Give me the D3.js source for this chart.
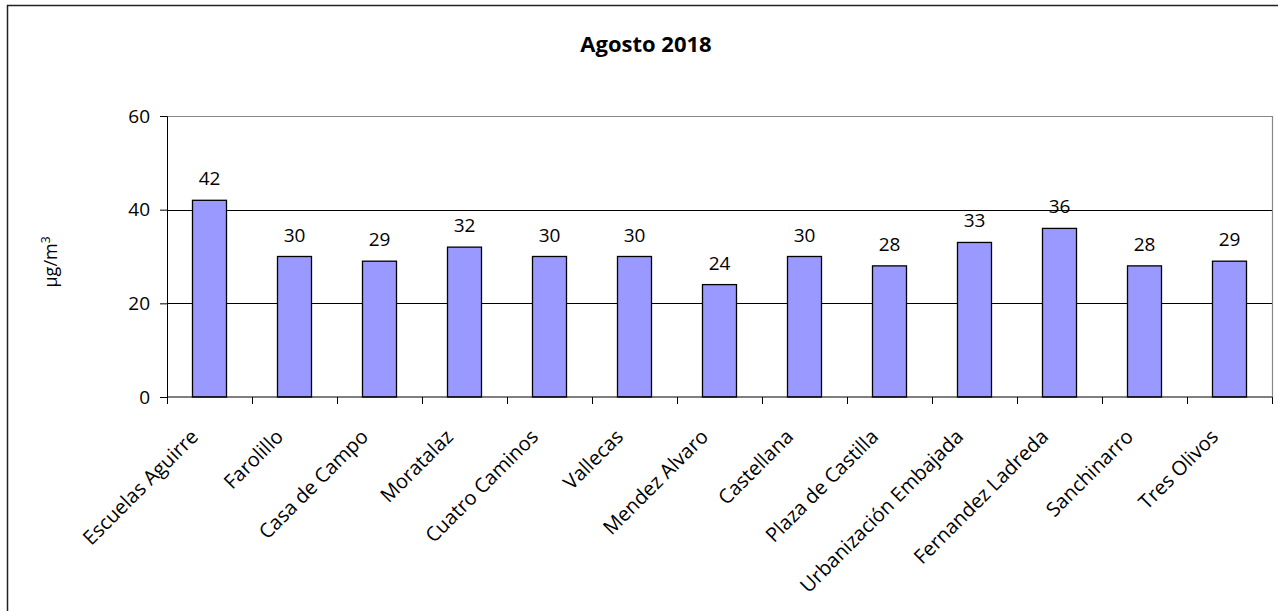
<!DOCTYPE html>
<html>
<head>
<meta charset="utf-8">
<script src="https://cdn.jsdelivr.net/npm/d3@7"></script>
<style>
  body { margin: 0; background: #fff; }
  text { font-family: "Open Sans", sans-serif; fill: #000; }
</style>
</head>
<body>
<div id="chart"></div>
<script>
// stations and monthly mean values (ug/m3)
const stations = ["Escuelas Aguirre", "Farolillo", "Casa de Campo", "Moratalaz", "Cuatro Caminos",
    "Vallecas", "Mendez Alvaro", "Castellana", "Plaza de Castilla", "Urbanización Embajada",
    "Fernandez Ladreda", "Sanchinarro", "Tres Olivos"];
const values = [42, 30, 29, 32, 30, 30, 24, 30, 28, 33, 36, 28, 29];
const yTicks = [0, 20, 40, 60];
const title = "Agosto 2018";

const width = 1278, height = 611;
const margin = {top: 116, right: 6, bottom: 214, left: 167};

const svg = d3.select("#chart")
    .append("svg")
    .attr("width", width)
    .attr("height", height);

// outer frame (runs past the right and bottom edge)
svg.append("rect")
    .attr("x", 7.5).attr("y", 5.5)
    .attr("width", 1300).attr("height", 700)
    .attr("fill", "none")
    .attr("stroke", "#222")
    .attr("stroke-width", 1.5);

const x = d3.scaleBand()
    .domain(stations)
    .range([margin.left, width - margin.right])
    .paddingInner(0.6)
    .paddingOuter(0.3);

const y = d3.scaleLinear()
    .domain([0, 60])
    .range([height - margin.bottom, margin.top]);

// band edges for the x ticks
const step = x.step();
const x0 = margin.left;

// plot frame: grey top and right
svg.append("path")
    .attr("d", `M${x0},${y(60) + 0.5}H${width - margin.right + 0.5}V${y(0)}`)
    .attr("fill", "none")
    .attr("stroke", "#888")
    .attr("stroke-width", 1.2);

// gridlines
svg.append("g")
    .selectAll("line")
    .data(yTicks.filter(d => d > 0 && d < 60))
    .join("line")
    .attr("x1", x0).attr("x2", width - margin.right)
    .attr("y1", d => Math.round(y(d)) + 0.5)
    .attr("y2", d => Math.round(y(d)) + 0.5)
    .attr("stroke", "#000");

// bars
svg.append("g")
    .selectAll("rect")
    .data(values)
    .join("rect")
    .attr("x", (d, i) => x(stations[i]))
    .attr("y", d => y(d))
    .attr("width", x.bandwidth())
    .attr("height", d => y(0) - y(d))
    .attr("fill", "#9999ff")
    .attr("stroke", "#000")
    .attr("stroke-width", 1.3);

// value labels
svg.append("g")
    .selectAll("text")
    .data(values)
    .join("text")
    .attr("x", (d, i) => x(stations[i]) + x.bandwidth() / 2)
    .attr("y", d => y(d) - 15)
    .attr("text-anchor", "middle")
    .attr("font-size", 19)
    .text(d => d);

// y axis
const yAxis = svg.append("g")
    .attr("transform", `translate(${x0},0)`)
    .call(d3.axisLeft(y).tickValues(yTicks).tickSize(7).tickPadding(10));
yAxis.selectAll("text").attr("font-size", 19).attr("font-family", "Open Sans");
yAxis.selectAll("path, line").attr("stroke", "#000");

// x axis with ticks between the categories
const xEdges = d3.range(stations.length + 1).map(i => x0 + i * step);
const xAxis = svg.append("g")
    .attr("transform", `translate(0,${y(0)})`);
xAxis.append("line")
    .attr("x1", x0).attr("x2", width - margin.right)
    .attr("stroke", "#000");
xAxis.selectAll(".tick")
    .data(xEdges)
    .join("line")
    .attr("class", "tick")
    .attr("x1", d => Math.round(d) + 0.5).attr("x2", d => Math.round(d) + 0.5)
    .attr("y1", 0).attr("y2", 7)
    .attr("stroke", "#000");
xAxis.selectAll(".label")
    .data(stations)
    .join("text")
    .attr("class", "label")
    .attr("text-anchor", "end")
    .attr("font-size", 20)
    .attr("transform", d => `translate(${x(d) + x.bandwidth() / 2 - 10},${41}) rotate(-45)`)
    .text(d => d);

// title
svg.append("text")
    .attr("x", 646)
    .attr("y", 52)
    .attr("text-anchor", "middle")
    .attr("font-size", 22)
    .attr("font-weight", "bold")
    .text(title);

// y axis title
const yTitle = svg.append("text")
    .attr("transform", `translate(57,262) rotate(-90)`)
    .attr("text-anchor", "middle")
    .attr("font-size", 18);
yTitle.append("tspan").text("µg/m");
yTitle.append("tspan").attr("dy", -7).attr("font-size", 12).text("3");
</script>
</body>
</html>
